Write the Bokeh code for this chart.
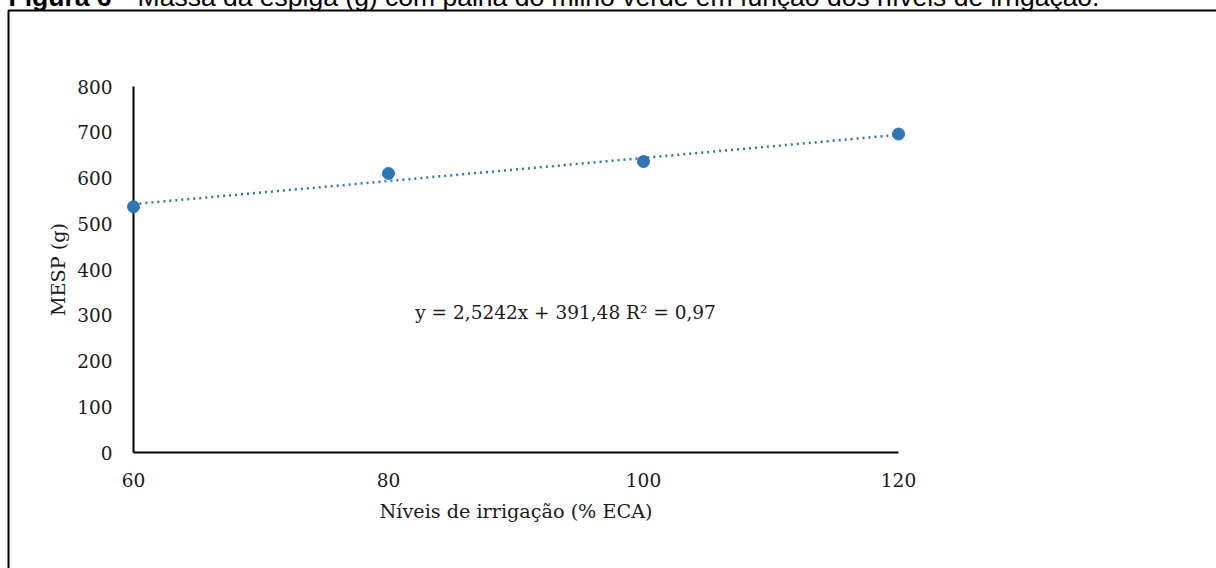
from bokeh.plotting import figure
from bokeh.models import Label, Range1d, FixedTicker
from bokeh.core.properties import value
from bokeh.embed import file_html
from bokeh.resources import INLINE

# ---- data ----
irrigation_levels = [60, 80, 100, 120]
mesp_values = [537, 610, 636, 696]
trend_slope = 2.5242
trend_intercept = 391.48
equation_text = "y = 2,5242x + 391,48 R² = 0,97"
x_tick_values = [60, 80, 100, 120]
y_tick_values = [0, 100, 200, 300, 400, 500, 600, 700, 800]
x_title = "Níveis de irrigação (% ECA)"
y_title = "MESP (g)"
caption_bold = "Figura 6"
caption_rest = "– Massa da espiga (g) com palha do milho verde em função dos níveis de irrigação."

trend_x = [irrigation_levels[0], irrigation_levels[-1]]
trend_y = [trend_slope * v + trend_intercept for v in trend_x]

FONT = "DejaVu Serif"
FS = "18.5px"
BLUE = "#2E75B6"

W, H = 1216, 568
FL, FR, FT, FB = 133, 898, 86, 452   # plot frame edges in pixels
X0, X1, Y0, Y1 = 60, 120, 0, 800


def px_to_x(px):
    return X0 + (px - FL) * (X1 - X0) / (FR - FL)


def px_to_y(py):
    return Y0 + (FB - py) * (Y1 - Y0) / (FB - FT)


p = figure(width=W, height=H, output_backend="svg", toolbar_location=None,
           x_range=Range1d(X0, X1), y_range=Range1d(Y0, Y1),
           min_border_left=FL, min_border_right=W - FR,
           min_border_top=FT, min_border_bottom=H - FB,
           background_fill_color="white", border_fill_color="white")
p.outline_line_color = None
p.grid.visible = False

# outer figure frame (continues beyond the window on the right and bottom)
p.line([px_to_x(1300), px_to_x(8), px_to_x(8)],
       [px_to_y(10), px_to_y(10), px_to_y(700)],
       line_color="black", line_width=2, level="annotation")

# caption (only its lower part falls inside the window)
p.text([px_to_x(8)], [px_to_y(-4)], text=[caption_bold],
       text_font=value("Liberation Sans"), text_font_size=value("26.5px"),
       text_font_style="bold", text_color="black",
       text_baseline="alphabetic", text_align="left", level="annotation")
p.text([px_to_x(115)], [px_to_y(-4)], text=[caption_rest],
       text_font=value("Liberation Sans"), text_font_size=value("26.5px"),
       text_color="black",
       text_baseline="alphabetic", text_align="left", level="annotation")

# axes
for ax in (p.xaxis[0], p.yaxis[0]):
    ax.axis_line_color = "black"
    ax.axis_line_width = 2
    ax.major_tick_line_color = None
    ax.minor_tick_line_color = None
    ax.major_tick_out = 0
    ax.major_tick_in = 0
    ax.major_label_text_font = FONT
    ax.major_label_text_font_size = FS
    ax.major_label_text_color = "#1a1a1a"
    ax.axis_label_text_font = FONT
    ax.axis_label_text_font_size = "19.2px"
    ax.axis_label_text_font_style = "normal"
    ax.axis_label_text_color = "#1a1a1a"

p.xaxis.ticker = FixedTicker(ticks=x_tick_values)
p.yaxis.ticker = FixedTicker(ticks=y_tick_values)
p.xaxis.axis_label = x_title
p.yaxis.axis_label = y_title
p.xaxis.major_label_standoff = 20
p.yaxis.major_label_standoff = 21
p.xaxis.axis_label_standoff = 10
p.yaxis.axis_label_standoff = 4

# trend line and points
p.line(trend_x, trend_y, line_color=BLUE, line_width=2.5, line_dash="2 4",
       level="annotation")
p.scatter(irrigation_levels, mesp_values, size=12, fill_color=BLUE,
          line_color=BLUE, level="annotation")

p.add_layout(Label(x=82.1, y=306, text=equation_text, text_font=FONT,
                   text_font_size=FS, text_color="#1a1a1a",
                   text_baseline="middle", text_align="left"))

open("out.html", "w").write(file_html(p, INLINE))
